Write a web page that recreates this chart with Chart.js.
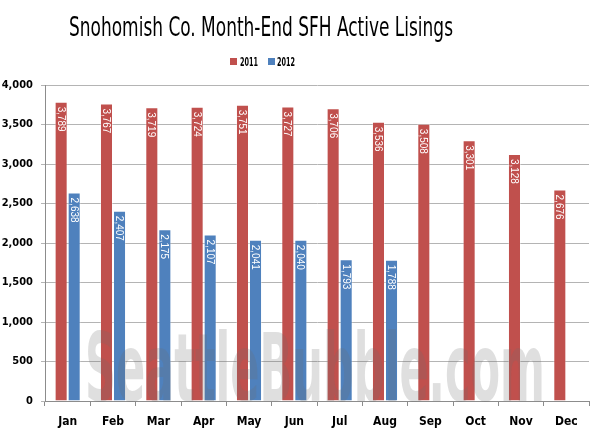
<!DOCTYPE html>
<html><head><meta charset="utf-8">
<script src="https://cdn.jsdelivr.net/npm/chart.js@4"></script>
<style>html,body{margin:0;padding:0;background:#fff}#wrap{width:600px;height:436px}</style>
</head><body><div id="wrap"><canvas id="c"></canvas></div>
<script>
const months = ["Jan","Feb","Mar","Apr","May","Jun","Jul","Aug","Sep","Oct","Nov","Dec"];
const series2011 = [3789,3767,3719,3724,3751,3727,3706,3536,3508,3301,3128,2676];
const series2012 = [2638,2407,2175,2107,2041,2040,1793,1788,null,null,null,null];
const seriesNames = ["2011","2012"];
const seriesColors = ["#C0504D","#4F81BD"];
const titleText = "Snohomish Co. Month-End SFH Active Lisings";
const watermark = "SeattleBubble.com";
const condensed = "'Liberation Sans Narrow','DejaVu Sans Condensed',sans-serif";

const fmt = v => v.toLocaleString('en-US');

const decor = {
  id: 'decor',
  afterDatasetsDraw(chart) {
    const ctx = chart.ctx;
    chart.data.datasets.forEach((ds, di) => {
      const meta = chart.getDatasetMeta(di);
      meta.data.forEach((bar, i) => {
        const v = ds.data[i];
        if (v == null) return;
        ctx.save();
        ctx.translate(bar.x, bar.y + 5);
        ctx.rotate(Math.PI / 2);
        ctx.fillStyle = '#ffffff';
        ctx.font = "11px 'Liberation Sans',Arial,sans-serif";
        ctx.textAlign = 'left';
        ctx.textBaseline = 'middle';
        ctx.fillText(fmt(v), 0, 0.5, 25);
        ctx.restore();
      });
    });
    ctx.save();
    ctx.font = "bold 94px " + condensed;
    ctx.fillStyle = 'rgba(110,110,110,0.22)';
    ctx.textAlign = 'left';
    ctx.textBaseline = 'alphabetic';
    ctx.fillText(watermark, 85, 401, 460);
    ctx.restore();
  },
  afterDraw(chart) {
    const ctx = chart.ctx;
    ctx.save();
    ctx.fillStyle = '#000';
    ctx.textAlign = 'center';
    ctx.textBaseline = 'alphabetic';
    ctx.font = "27px " + condensed;
    ctx.fillText(titleText, 261, 36, 384);
    const items = [{x:230, tx:240}, {x:268, tx:277}];
    items.forEach((it, k) => {
      ctx.fillStyle = seriesColors[k];
      ctx.fillRect(it.x, 58, 7, 7);
      ctx.fillStyle = '#000';
      ctx.textAlign = 'left';
      ctx.font = "bold 13px " + condensed;
      ctx.fillText(seriesNames[k], it.tx, 65.5, 18);
    });
    ctx.restore();
  }
};

new Chart(document.getElementById('c'), {
  type: 'bar',
  data: {
    labels: months,
    datasets: [
      {label: seriesNames[0], data: series2011, backgroundColor: seriesColors[0], borderColor: 'rgba(255,255,255,0.35)', borderWidth: 1},
      {label: seriesNames[1], data: series2012, backgroundColor: seriesColors[1], borderColor: 'rgba(255,255,255,0.35)', borderWidth: 1}
    ]
  },
  options: {
    responsive: true,
    maintainAspectRatio: false,
    animation: false,
    layout: {padding: {top: 85, right: 11, left: 0, bottom: 0}},
    datasets: {bar: {categoryPercentage: 0.575, barPercentage: 1}},
    plugins: {legend: {display: false}, title: {display: false}, tooltip: {enabled: false}},
    scales: {
      x: {
        grid: {display: true, drawOnChartArea: false, drawTicks: true, tickLength: 5, color: '#8c8c8c', offset: true},
        border: {display: true, color: '#8c8c8c'},
        ticks: {color: '#000', font: {family: condensed, size: 12, weight: 'bold'}, padding: 9},
        afterFit(s) { s.height = 35; }
      },
      y: {
        min: 0, max: 4000,
        ticks: {stepSize: 500, color: '#000', font: {family: condensed, size: 11, weight: 'bold'}, padding: 8, callback: v => fmt(v)},
        grid: {color: '#b4b4b4', tickLength: 4},
        border: {display: true, color: '#8c8c8c'},
        afterFit(s) { s.width = 45; }
      }
    }
  },
  plugins: [decor]
});
</script>
</body></html>
